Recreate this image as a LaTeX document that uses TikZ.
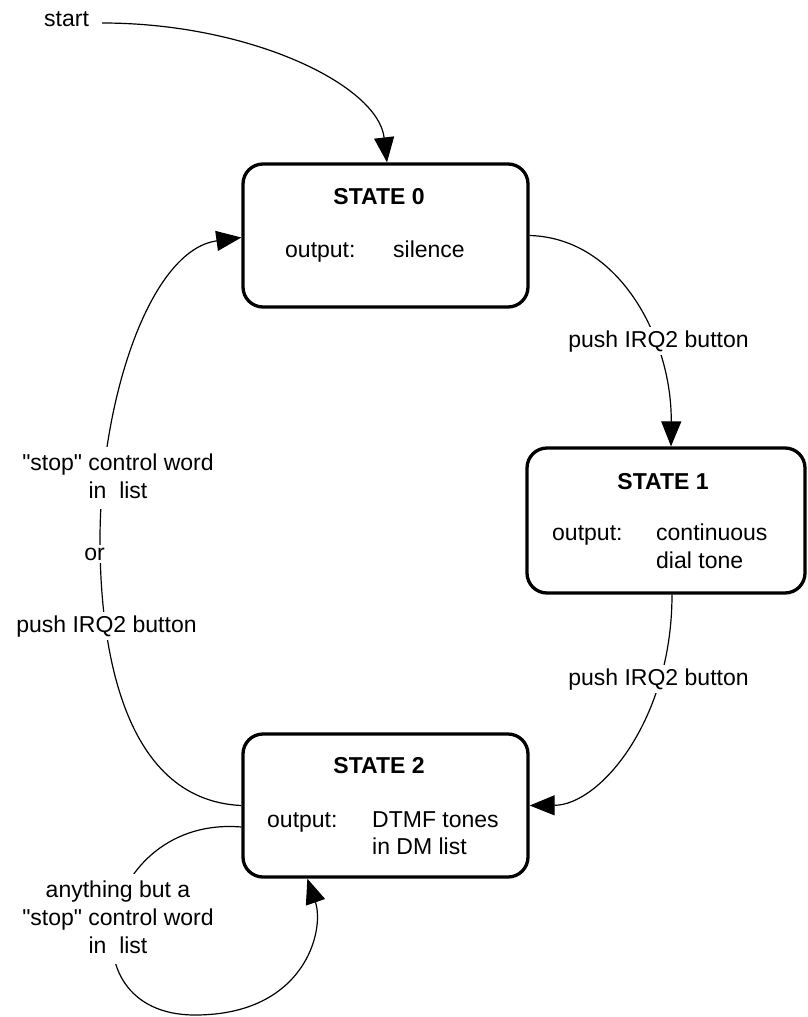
\documentclass[tikz,border=0pt]{standalone}
\usepackage{fontspec}
\setmainfont{Liberation Sans}[Ligatures=TeXOff]
\usetikzlibrary{arrows.meta,calc}
\newcommand\fsz{\fontsize{23}{28}\selectfont}
\newcommand\dq{\char34\relax}
\begin{document}
\begin{tikzpicture}[x=1pt,y=-1pt,
  state/.style={draw, line width=3.3pt, rounded corners=20pt, minimum width=285pt, minimum height=143pt, inner sep=0pt},
  lbl/.style={font=\fsz, inner sep=0pt, anchor=base west},
  ttl/.style={font=\fsz\bfseries, inner sep=0pt, anchor=base},
  edgelbl/.style={font=\fsz, fill=white, inner sep=3pt, anchor=base},
  conn/.style={line width=1.2pt, -{Triangle[length=25pt,width=20pt]}}]
\useasboundingbox (0,0) rectangle (807,1017);

% states
\node[state] (s0) at (385.5,235.5) {};
\node[state, minimum width=278pt, minimum height=145pt] (s1) at (666,520.5) {};
\node[state] (s2) at (385.5,805.5) {};

\node[ttl] (t0) at (379,204) {STATE 0};
\node[lbl] (o0) at (285,257) {output:};
\node[lbl] (v0) at (393,257) {silence};

\node[ttl] (t1) at (663,489) {STATE 1};
\node[lbl] (o1) at (552,540) {output:};
\node[lbl] (v1) at (656,540) {continuous};
\node[lbl] (v1b) at (656,568) {dial tone};

\node[ttl] (t2) at (379,773) {STATE 2};
\node[lbl] (o2) at (267,827) {output:};
\node[lbl] (v2) at (372,827) {DTMF tones};
\node[lbl] (v2b) at (372,854) {in DM list};

% start
\node[lbl] (start) at (44,27) {start};
\coordinate (st) at ($(start.base east)+(13,-4)$);

% connectors
\draw[conn] (st) .. controls (250,23) and (378,85) .. ($(s0.north)+(1.5,0)$);
\draw[conn] (s0.east) .. controls (620,238) and (672,340) .. ($(s1.north)+(5,0)$);
\draw[conn] ($(s1.south)+(6,0)$) .. controls (672,720) and (600,805) .. (s2.east);
\draw[conn] (s2.west) .. controls (120,800) and (100,640) .. (100,540)
  .. controls (100,400) and (150,250) .. ($(s0.west)+(0,2)$);
\draw[conn] ($(s2.west)+(0,21.5)$) .. controls (100,815) and (60,1015) .. (195,1015)
  .. controls (305,1015) and (325,930) .. ($(s2.south west)+(66,0)$);

% connector labels
\node[edgelbl] (l01) at (658.5,347) {push IRQ2 button};
\node[edgelbl] (l12) at (658.5,685) {push IRQ2 button};
\node[edgelbl] (l20a) at (118,470) {\begin{tabular}[t]{@{}c@{}}\dq stop\dq{} control word\\in~~list\end{tabular}};
\node[edgelbl] (l20b) at (94.5,560) {or};
\node[edgelbl] (l20c) at (106.5,632) {push IRQ2 button};
\node[edgelbl] (l22) at (118,897) {\begin{tabular}[t]{@{}c@{}}anything but a\\\dq stop\dq{} control word\\in~~list\end{tabular}};
\end{tikzpicture}
\end{document}
